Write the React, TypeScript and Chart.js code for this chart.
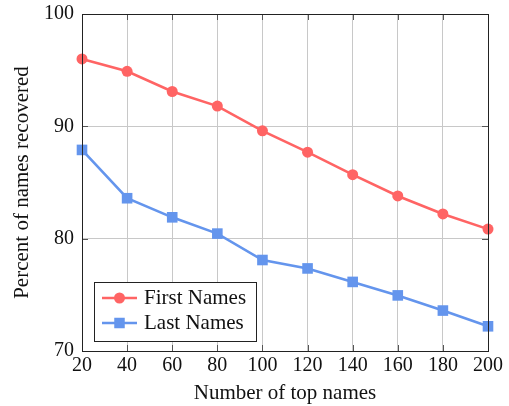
import React, { useEffect, useRef } from "react";
import { Chart, registerables } from "chart.js";

Chart.register(...registerables);

const xValues = [20, 40, 60, 80, 100, 120, 140, 160, 180, 200];
const firstNames = [96.0, 94.9, 93.1, 91.8, 89.6, 87.7, 85.7, 83.8, 82.2, 80.85];
const lastNames = [87.9, 83.6, 81.9, 80.45, 78.1, 77.35, 76.15, 74.95, 73.6, 72.2];
const seriesLabels = ["First Names", "Last Names"];
const xTitle = "Number of top names";
const yTitle = "Percent of names recovered";

const RED = "#ff6464";
const BLUE = "#6495ed";
const FONT = "'Liberation Serif', 'Times New Roman', serif";
const FS = 20;
const TS = 21;

const innerTicks = {
  id: "innerTicks",
  afterDatasetsDraw(chart: any) {
    const { ctx, chartArea: a, scales } = chart;
    ctx.save();
    ctx.strokeStyle = "#555";
    ctx.lineWidth = 1;
    const L = 6;
    scales.x.ticks.forEach((t: any) => {
      const px = Math.round(scales.x.getPixelForValue(t.value)) + 0.5;
      ctx.beginPath();
      ctx.moveTo(px, a.top);
      ctx.lineTo(px, a.top + L);
      ctx.moveTo(px, a.bottom);
      ctx.lineTo(px, a.bottom - L);
      ctx.stroke();
    });
    scales.y.ticks.forEach((t: any) => {
      const py = Math.round(scales.y.getPixelForValue(t.value)) + 0.5;
      ctx.beginPath();
      ctx.moveTo(a.left, py);
      ctx.lineTo(a.left + L, py);
      ctx.moveTo(a.right, py);
      ctx.lineTo(a.right - L, py);
      ctx.stroke();
    });
    ctx.strokeStyle = "#222";
    ctx.strokeRect(Math.round(a.left) + 0.5, Math.round(a.top) + 0.5, Math.round(a.right - a.left), Math.round(a.bottom - a.top));
    ctx.restore();
  },
};

const boxLegend = {
  id: "boxLegend",
  afterDraw(chart: any) {
    const { ctx, chartArea: a } = chart;
    const x0 = Math.round(a.left) + 12;
    const y0 = Math.round(a.bottom) - 69;
    const w = 162;
    const h = 59;
    ctx.save();
    ctx.fillStyle = "#fff";
    ctx.fillRect(x0, y0, w, h);
    ctx.strokeStyle = "#222";
    ctx.lineWidth = 1;
    ctx.strokeRect(x0 + 0.5, y0 + 0.5, w, h);
    ctx.font = `${TS}px ${FONT}`;
    ctx.textBaseline = "alphabetic";
    chart.data.datasets.forEach((ds: any, i: number) => {
      const cy = y0 + 16 + i * 25;
      ctx.strokeStyle = ds.borderColor;
      ctx.lineWidth = 2.5;
      ctx.beginPath();
      ctx.moveTo(x0 + 8, cy);
      ctx.lineTo(x0 + 43, cy);
      ctx.stroke();
      ctx.fillStyle = ds.borderColor;
      if (ds.pointStyle === "rect") {
        ctx.fillRect(x0 + 25.5 - 5.25, cy - 5.25, 10.5, 10.5);
      } else {
        ctx.beginPath();
        ctx.arc(x0 + 25.5, cy, 5.5, 0, Math.PI * 2);
        ctx.fill();
      }
      ctx.fillStyle = "#111";
      ctx.fillText(ds.label, x0 + 50, cy + 5.5);
    });
    ctx.restore();
  },
};

export default function App() {
  const ref = useRef<HTMLCanvasElement | null>(null);
  useEffect(() => {
    document.body.style.margin = "0";
    if (!ref.current) return;
    const chart = new Chart(ref.current, {
      type: "line",
      data: {
        datasets: [
          {
            label: seriesLabels[0],
            data: xValues.map((x, i) => ({ x, y: firstNames[i] })),
            borderColor: RED,
            backgroundColor: RED,
            borderWidth: 2.6,
            pointStyle: "circle",
            pointRadius: 5.5,
            pointBorderWidth: 0,
            pointBackgroundColor: RED,
            clip: false,
          },
          {
            label: seriesLabels[1],
            data: xValues.map((x, i) => ({ x, y: lastNames[i] })),
            borderColor: BLUE,
            backgroundColor: BLUE,
            borderWidth: 2.6,
            pointStyle: "rect",
            pointRadius: 7.5,
            pointBorderWidth: 0,
            pointBackgroundColor: BLUE,
            clip: false,
          },
        ],
      },
      options: {
        animation: false,
        responsive: false,
        maintainAspectRatio: false,
        layout: { padding: { left: 0, top: 14, right: 21, bottom: 0 } },
        plugins: { legend: { display: false }, tooltip: { enabled: false } },
        scales: {
          x: {
            type: "linear",
            min: 20,
            max: 200,
            ticks: { stepSize: 20, color: "#111", font: { family: FONT, size: FS }, padding: 3, maxRotation: 0 },
            grid: { color: "#c8c8c8", drawTicks: false, lineWidth: 1 },
            border: { display: false },
            title: { display: true, text: xTitle, color: "#111", font: { family: FONT, size: TS }, padding: { top: 0, bottom: 0 } },
            afterFit(s: any) {
              s.height = 55;
              s.paddingLeft = 0;
              s.paddingRight = 0;
            },
          },
          y: {
            min: 70,
            max: 100,
            ticks: { stepSize: 10, color: "#111", font: { family: FONT, size: FS }, padding: 8 },
            grid: { color: "#c8c8c8", drawTicks: false, lineWidth: 1 },
            border: { display: false },
            title: { display: true, text: yTitle, color: "#111", font: { family: FONT, size: TS }, padding: { top: 10, bottom: 0 } },
            afterFit(s: any) {
              s.width = 82;
              s.paddingTop = 0;
              s.paddingBottom = 0;
            },
          },
        },
      },
      plugins: [innerTicks, boxLegend],
    });
    return () => chart.destroy();
  }, []);
  return (
    <div style={{ width: 509, height: 406 }}>
      <canvas ref={ref} width={509} height={406} style={{ display: "block", width: 509, height: 406 }} />
    </div>
  );
}
